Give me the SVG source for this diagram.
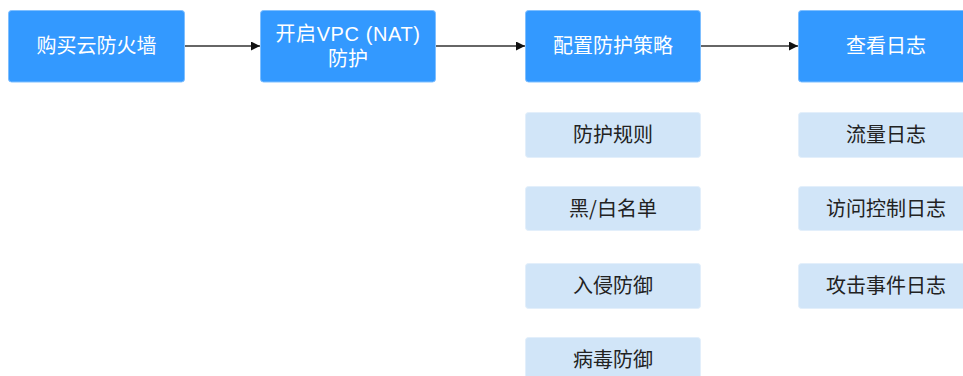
<svg xmlns="http://www.w3.org/2000/svg" width="963" height="376" viewBox="0 0 963 376">
<style>
.main rect{fill:#3399ff;stroke:#7fbfff;stroke-width:1}
.main text{fill:#ffffff;font-family:"Noto Sans CJK SC","Liberation Sans",sans-serif;font-size:20px;text-anchor:middle}
.main text.lat{font-family:"Liberation Sans","Noto Sans CJK SC",sans-serif;letter-spacing:0.6px}
.sub rect{fill:#d1e5f8;stroke:#e3effb;stroke-width:1}
.sub text{fill:#222222;font-family:"Noto Sans CJK SC","Liberation Sans",sans-serif;font-size:20px;text-anchor:middle}
.conn line{stroke:#333333;stroke-width:1.5;fill:none}
</style>
<defs>
<marker id="arr" viewBox="0 0 10 10" refX="10" refY="5" markerWidth="9" markerHeight="9" markerUnits="userSpaceOnUse" orient="auto">
<path d="M0,0 L10,5 L0,10 z" fill="#111111"/>
</marker>
</defs>
<rect width="963" height="376" fill="#ffffff"/>
<g class="conn">
<line x1="184" y1="46" x2="260" y2="46" marker-end="url(#arr)"/>
<line x1="435" y1="46" x2="525" y2="46" marker-end="url(#arr)"/>
<line x1="700" y1="46" x2="798" y2="46" marker-end="url(#arr)"/>
</g>
<g id="n1" class="main"><rect x="8.5" y="10.5" width="176" height="71.5" rx="3"/><text x="96.5" y="53">购买云防火墙</text></g>
<g id="n2" class="main"><rect x="260.5" y="10.5" width="175" height="71.5" rx="3"/><text class="lat" x="348" y="41">开启VPC (NAT)</text><text x="348" y="66">防护</text></g>
<g id="n3" class="main"><rect x="525.5" y="10.5" width="175" height="71.5" rx="3"/><text x="613" y="53">配置防护策略</text></g>
<g id="n4" class="main"><rect x="798.5" y="10.5" width="176" height="71.5" rx="3"/><text x="886" y="53">查看日志</text></g>
<g id="s1" class="sub"><rect x="525.5" y="112.5" width="175" height="45" rx="3"/><text x="613" y="142">防护规则</text></g>
<g id="s2" class="sub"><rect x="525.5" y="186.5" width="175" height="44" rx="3"/><text x="613" y="215.5">黑/白名单</text></g>
<g id="s3" class="sub"><rect x="525.5" y="263.5" width="175" height="45" rx="3"/><text x="613" y="293">入侵防御</text></g>
<g id="s4" class="sub"><rect x="525.5" y="337.5" width="175" height="45" rx="3"/><text x="613" y="367">病毒防御</text></g>
<g id="s5" class="sub"><rect x="798.5" y="112.5" width="176" height="45" rx="3"/><text x="886" y="142">流量日志</text></g>
<g id="s6" class="sub"><rect x="798.5" y="186.5" width="176" height="44" rx="3"/><text x="886" y="215.5">访问控制日志</text></g>
<g id="s7" class="sub"><rect x="798.5" y="263.5" width="176" height="45" rx="3"/><text x="886" y="293">攻击事件日志</text></g>
</svg>
